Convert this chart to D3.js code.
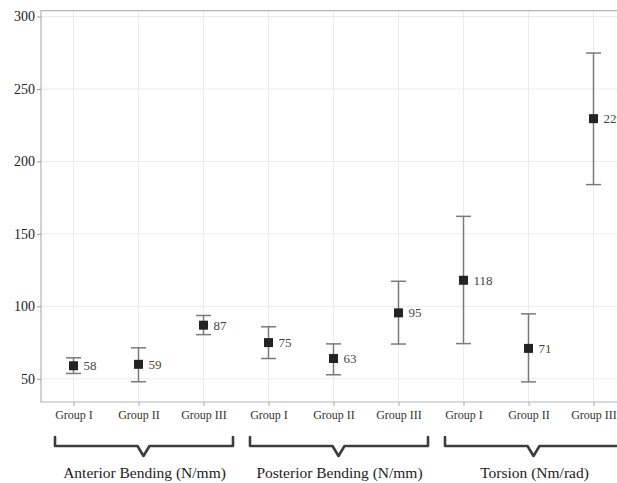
<!DOCTYPE html>
<html>
<head>
<meta charset="utf-8">
<script src="https://cdn.jsdelivr.net/npm/d3@7"></script>
<style>
  body { margin: 0; background: #fff; }
  svg { display: block; }
  svg text { font-family: "Liberation Serif", "Times New Roman", "DejaVu Serif", serif; }
</style>
</head>
<body>
<div id="chart"></div>
<script>
// test groups and the three specimen groups in each
const testNames = ["Anterior Bending (N/mm)", "Posterior Bending (N/mm)", "Torsion (Nm/rad)"];
const groupNames = ["Group I", "Group II", "Group III"];

// one entry per point, in order: anterior I-III, posterior I-III, torsion I-III
const meanValues = [59, 60, 87, 75, 64, 95.5, 118, 71, 229.5];
const lowerValues = [53.7, 48, 80.5, 64, 52.8, 74, 74.3, 47.9, 184];
const upperValues = [64.5, 71.4, 93.7, 85.9, 74.1, 117.3, 162.1, 94.8, 274.8];
const pointLabels = ["58", "59", "87", "75", "63", "95", "118", "71", "229"];

const yTicks = [50, 100, 150, 200, 250, 300];

let points = []
for (let i = 0; i < meanValues.length; i++) {
    let t = Math.floor(i / groupNames.length);
    points.push({
        key: testNames[t] + "|" + groupNames[i % groupNames.length],
        test: testNames[t],
        group: groupNames[i % groupNames.length],
        mean: meanValues[i],
        lo: lowerValues[i],
        hi: upperValues[i],
        label: pointLabels[i]
    })
}

const W = 617, H = 483;

const svg = d3.select("#chart")
  .append("svg")
    .attr("width", W)
    .attr("height", H);

// x: one slot per point, the plot runs past the right edge of the window
const x = d3.scalePoint()
    .domain(points.map(d => d.key))
    .range([41, 626])
    .padding(0.5);

const y = d3.scaleLinear()
    .domain([34, 304])
    .range([402, 10.7]);

// grid
svg.append("g")
  .selectAll("line")
  .data(yTicks)
  .enter()
  .append("line")
    .attr("x1", 41).attr("x2", 626)
    .attr("y1", d => y(d)).attr("y2", d => y(d))
    .attr("stroke", "#ebebeb")
    .attr("stroke-width", 1);

svg.append("g")
  .selectAll("line")
  .data(points)
  .enter()
  .append("line")
    .attr("x1", d => x(d.key)).attr("x2", d => x(d.key))
    .attr("y1", y(304)).attr("y2", y(34))
    .attr("stroke", "#ebebeb")
    .attr("stroke-width", 1);

// plot frame (top + left + bottom)
svg.append("path")
    .attr("d", `M626,${y(304)}H41V${y(34)}H626`)
    .attr("fill", "none")
    .attr("stroke", "#b4b4b4")
    .attr("stroke-width", 1.2);

// Y axis
const yAxis = svg.append("g")
    .attr("transform", "translate(41,0)")
    .call(d3.axisLeft(y).tickValues(yTicks).tickSize(4).tickPadding(2));
yAxis.attr("font-family", null);
yAxis.select(".domain").remove();
yAxis.selectAll("line").attr("stroke", "#999");
yAxis.selectAll("text")
    .style("font-size", "14px")
    .attr("fill", "#222");

// X axis
const xAxis = svg.append("g")
    .attr("transform", `translate(0,${y(34)})`)
    .call(d3.axisBottom(x).tickSize(4).tickPadding(4).tickFormat(k => k.split("|")[1]));
xAxis.attr("font-family", null);
xAxis.select(".domain").remove();
xAxis.selectAll("line").attr("stroke", "#aaa");
xAxis.selectAll("text")
    .style("font-size", "12px")
    .attr("fill", "#333");

// error bars
const capW = 7.5;
const bars = svg.append("g")
  .selectAll("g")
  .data(points)
  .enter()
  .append("g")
    .attr("stroke", "#7a7a7a")
    .attr("stroke-width", 1.5);
bars.append("line")
    .attr("x1", d => x(d.key)).attr("x2", d => x(d.key))
    .attr("y1", d => y(d.lo)).attr("y2", d => y(d.hi));
bars.append("line")
    .attr("x1", d => x(d.key) - capW).attr("x2", d => x(d.key) + capW)
    .attr("y1", d => y(d.hi)).attr("y2", d => y(d.hi));
bars.append("line")
    .attr("x1", d => x(d.key) - capW).attr("x2", d => x(d.key) + capW)
    .attr("y1", d => y(d.lo)).attr("y2", d => y(d.lo));

// markers
const ms = 9;
svg.selectAll("mymarker")
  .data(points)
  .enter()
  .append("rect")
    .attr("x", d => x(d.key) - ms / 2)
    .attr("y", d => y(d.mean) - ms / 2)
    .attr("width", ms)
    .attr("height", ms)
    .attr("fill", "#232323");

// value labels
svg.selectAll("mylabel")
  .data(points)
  .enter()
  .append("text")
    .attr("x", d => x(d.key) + 10)
    .attr("y", d => y(d.mean))
    .attr("dy", "0.35em")
    .style("font-size", "13px")
    .attr("fill", "#444")
    .text(d => d.label);

// braces under each test
const braceTop = 437, braceLine = 446, braceTip = 456;
testNames.forEach(function(t) {
    let keys = points.filter(p => p.test == t).map(p => p.key);
    let x0 = x(keys[0]) - 18.5;
    let x1 = x(keys[keys.length - 1]) + 29.5;
    let xm = x(keys[1]) + 5;
    svg.append("path")
        .attr("d", `M${x0},${braceTop}V${braceLine}H${xm - 6}L${xm},${braceTip}L${xm + 6},${braceLine}H${x1}V${braceTop}`)
        .attr("fill", "none")
        .attr("stroke", "#3d3d3d")
        .attr("stroke-width", 2.6)
        .attr("stroke-linejoin", "round")
        .attr("stroke-linecap", "round");
    svg.append("text")
        .attr("x", xm + 1)
        .attr("y", 478)
        .attr("text-anchor", "middle")
        .style("font-size", "15.5px")
        .attr("fill", "#222")
        .text(t);
});
</script>
</body>
</html>
